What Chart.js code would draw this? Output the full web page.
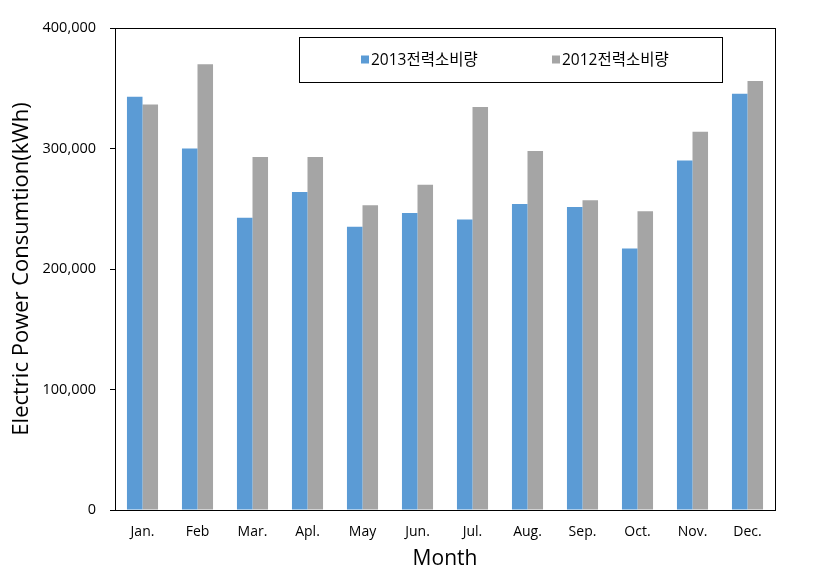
<!DOCTYPE html>
<html>
<head>
<meta charset="utf-8">
<script src="https://cdn.jsdelivr.net/npm/chart.js@4"></script>
<style>
  html, body { margin: 0; padding: 0; background: #fff; }
  #wrap { width: 839px; height: 574px; }
</style>
</head>
<body>
<div id="wrap"><canvas id="chart"></canvas></div>
<script>
// Datos
const months = ['Jan.', 'Feb', 'Mar.', 'Apl.', 'May', 'Jun.', 'Jul.', 'Aug.', 'Sep.', 'Oct.', 'Nov.', 'Dec.'];
const power2013 = [343000, 300000, 242500, 264000, 235000, 246500, 241000, 254000, 251500, 217000, 290000, 345500];
const power2012 = [336500, 370000, 293000, 293000, 253000, 270000, 334500, 298000, 257000, 248000, 314000, 356000];
const seriesLabels = ['2013전력소비량', '2012전력소비량'];
const yTicks = [0, 100000, 200000, 300000, 400000];

const FONT = "'Open Sans', 'Noto Sans', 'Noto Sans CJK KR', sans-serif";

// Marco negro alrededor del área del gráfico
const frame = {
    id: 'frame',
    afterDatasetsDraw(chart) {
        const { ctx, chartArea: a } = chart;
        ctx.save();
        ctx.strokeStyle = '#000';
        ctx.lineWidth = 1;
        ctx.strokeRect(Math.round(a.left) + 0.5, Math.round(a.top) + 0.5,
            Math.round(a.right - a.left), Math.round(a.bottom - a.top));
        ctx.restore();
    }
};

// Leyenda dentro del área, con recuadro
const boxLegend = {
    id: 'boxLegend',
    afterDraw(chart) {
        const { ctx, chartArea: a } = chart;
        const x0 = a.left + 184, y0 = a.top + 9, w = 423, h = 45;
        ctx.save();
        ctx.fillStyle = '#fff';
        ctx.fillRect(x0, y0, w, h);
        ctx.strokeStyle = '#000';
        ctx.lineWidth = 1;
        ctx.strokeRect(Math.round(x0) + 0.5, Math.round(y0) + 0.5, w, h);
        ctx.font = '15.5px ' + FONT;
        ctx.textBaseline = 'middle';
        const starts = [x0 + 62, x0 + 253];
        chart.data.datasets.forEach((ds, i) => {
            const cy = y0 + h / 2;
            ctx.fillStyle = ds.backgroundColor;
            ctx.fillRect(starts[i], cy - 4, 8, 8);
            ctx.fillStyle = '#000';
            ctx.fillText(ds.label, starts[i] + 10, cy + 1);
        });
        ctx.restore();
    }
};

new Chart(document.getElementById('chart'), {
    type: 'bar',
    data: {
        labels: months,
        datasets: [
            { label: seriesLabels[0], data: power2013, backgroundColor: '#5B9BD5' },
            { label: seriesLabels[1], data: power2012, backgroundColor: '#A5A5A5' }
        ]
    },
    options: {
        responsive: true,
        maintainAspectRatio: false,
        animation: false,
        datasets: { bar: { categoryPercentage: 0.565, barPercentage: 1.0 } },
        layout: { padding: { left: 8, top: 28, right: 64, bottom: 0 } },
        plugins: { legend: { display: false }, tooltip: { enabled: false } },
        scales: {
            x: {
                grid: { display: false },
                border: { display: true, color: '#000', width: 1 },
                ticks: { color: '#000', font: { family: FONT, size: 14 }, padding: 6, maxRotation: 0 },
                title: { display: true, text: 'Month', color: '#000', font: { family: FONT, size: 21 }, padding: { top: 0, bottom: 2 } },
                afterFit(scale) { scale.height = 574 - 510; }
            },
            y: {
                min: 0,
                max: 400000,
                afterBuildTicks(scale) { scale.ticks = yTicks.map(v => ({ value: v })); },
                grid: { drawOnChartArea: false, drawTicks: true, tickLength: 5, color: '#000' },
                border: { display: true, color: '#000', width: 1 },
                ticks: {
                    color: '#000',
                    font: { family: FONT, size: 14.5 },
                    padding: 14,
                    callback: v => v.toLocaleString('en-US')
                },
                title: {
                    display: true,
                    text: 'Electric Power Consumtion(kWh)',
                    color: '#000',
                    font: { family: FONT, size: 22 },
                    padding: { top: 1, bottom: 0 }
                },
                afterFit(scale) { scale.width = 115 - 8; }
            }
        }
    },
    plugins: [frame, boxLegend]
});
</script>
</body>
</html>
